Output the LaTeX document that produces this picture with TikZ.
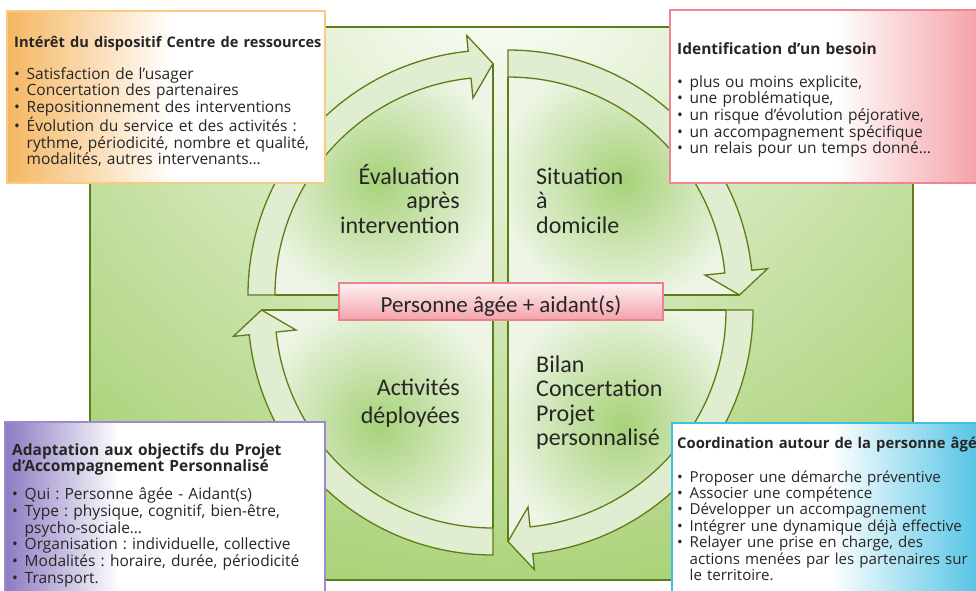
\documentclass[tikz,border=0pt]{standalone}
\usepackage{fontspec}
\setmainfont{Open Sans}
\newfontfamily\handfont{Carlito}
\usetikzlibrary{calc}
\frenchspacing

\definecolor{cycleline}{HTML}{5E7D17}
\definecolor{bandfill}{HTML}{E0EDD0}
\definecolor{innerbase}{HTML}{EEF5E6}
\definecolor{spotgreen}{HTML}{A7D279}
\definecolor{bgouter}{HTML}{96C758}
\definecolor{labeltop}{HTML}{FDF1F2}
\definecolor{labelbot}{HTML}{F3A3AB}
\definecolor{labelline}{HTML}{EC8190}
\definecolor{orangeL}{HTML}{F5B662}
\definecolor{orangeline}{HTML}{F9CB7E}
\definecolor{pinkR}{HTML}{F4A2A8}
\definecolor{pinkline}{HTML}{EF8592}
\definecolor{purpleL}{HTML}{8C7BC2}
\definecolor{purpleline}{HTML}{9C8BCB}
\definecolor{blueR}{HTML}{56C4E6}
\definecolor{blueline}{HTML}{3DBFE6}
\definecolor{inktext}{HTML}{262626}

% bullet line with hanging indent
\newcommand\bul{\par\hangindent=12.5pt\hangafter=1\noindent\makebox[12.5pt][l]{•}}
% panel heading, optional size
\newcommand\panelhead[2][15.5]{{\fontsize{#1}{16.7}\selectfont\textbf{#2}}}

% one quarter of the cycle: sector, curved arrow band and straight edges
% #1 corner of the quarter, #2 angle where the band starts
\newcommand\cyclequad[2]{%
  \begin{scope}[shift={#1}]
    \pgfmathsetmacro\qb{#2+84.2}
    \pgfmathsetmacro\qe{#2+90}
    \pgfmathsetmacro\qm{#2+45}
    \path[fill=innerbase] (0,0) -- (#2:218) arc[start angle=#2, end angle=\qb, radius=218]
      -- (\qb:198) -- (\qe:231.5) -- cycle;
    \begin{scope}
      \clip (0,0) -- (#2:218) arc[start angle=#2, end angle=\qb, radius=218]
        -- (\qb:198) -- (\qe:231.5) -- cycle;
      \shade[inner color=spotgreen, outer color=innerbase] (\qm:162) circle (125);
    \end{scope}
    \draw[cycleedge, fill=bandfill] (#2:218) -- (#2:245)
      arc[start angle=#2, end angle=\qb, radius=245]
      -- (\qb:261) -- (\qe:231.5) -- (\qb:198) -- (\qb:218)
      arc[start angle=\qb, end angle=#2, radius=218] -- cycle;
    \draw[cycleedge] (\qe:231.5) -- (0,0) -- (#2:218);
  \end{scope}}

\begin{document}
\begin{tikzpicture}[x=1pt, y=1pt, yscale=-1,
  cycleedge/.style={draw=cycleline, line width=1.3pt, line join=miter},
  boxtext/.style={inner sep=0pt, anchor=base west, text=inktext, text width=#1,
    font=\fontsize{15.5}{16.7}\selectfont, align=left},
  quadtext/.style={inner sep=0pt, text=inktext, text width=170pt,
    font=\handfont\fontsize{24}{24.6}\selectfont},
  boxframe/.style={line width=1.3pt}]

\useasboundingbox (0,0) rectangle (976,590);

% green background panel
\begin{scope}
  \clip (90,27) rectangle (913,580);
  \shade[inner color=white, outer color=bgouter] (500,-40) circle (800);
\end{scope}
\draw[cycleline, line width=1.3pt] (90,27) rectangle (913,580);

% the four quarters of the cycle
\cyclequad{(493,295)}{180}
\cyclequad{(508,295)}{270}
\cyclequad{(508,310)}{0}
\cyclequad{(493,310)}{90}

% centre label
\node[draw=labelline, line width=1.4pt, top color=labeltop, bottom color=labelbot,
  minimum width=324pt, text height=29pt, text depth=8pt, inner sep=0pt, anchor=base,
  text=inktext, font=\handfont\fontsize{23}{24}\selectfont] (who) at (501,312)
  {Personne âgée + aidant(s)};

% quarter captions
\node[quadtext, align=right, anchor=base east] (evaluation) at (460,184)
  {Évaluation\\après\\intervention};
\node[quadtext, align=left, anchor=base west] (situation) at (536,184)
  {Situation\\à\\domicile};
\node[quadtext, align=left, anchor=base west] (bilan) at (536,372)
  {Bilan\\Concertation\\Projet\\personnalisé};
\node[quadtext, align=right, anchor=base east,
  font=\handfont\fontsize{24}{28}\selectfont] (activites) at (460,395)
  {Activités\\déployées};

% top left panel
\fill[white] (7,11) rectangle (325,183);
\shade[left color=orangeL, right color=white] (7,11) rectangle (172,183);
\draw[orangeline, boxframe] (7,11) rectangle (325,183);
\node[boxtext=322pt] (ressources) at (14,47)
  {\raggedright\panelhead[14.6]{Intérêt du dispositif Centre de ressources}\par\vspace{15.3pt}
   \bul Satisfaction de l’usager
   \bul Concertation des partenaires
   \bul Repositionnement des interventions
   \bul Évolution du service et des activités :\newline rythme, périodicité, nombre et qualité,\newline modalités, autres intervenants…\par};

% top right panel
\fill[white] (670,10) rectangle (990,183);
\shade[left color=white, right color=pinkR] (835,10) rectangle (978,183);
\draw[pinkline, boxframe] (670,10) rectangle (995,183);
\node[boxtext=300pt] (besoin) at (677,54)
  {\raggedright\panelhead{Identification d’un besoin}\par\vspace{16.3pt}
   \bul plus ou moins explicite,
   \bul une problématique,
   \bul un risque d’évolution péjorative,
   \bul un accompagnement spécifique
   \bul un relais pour un temps donné…\par};

% bottom left panel
\fill[white] (5,422) rectangle (325,600);
\shade[left color=purpleL, right color=white] (5,422) rectangle (120,600);
\draw[purpleline, boxframe] (5,422) rectangle (325,605);
\node[boxtext=315pt] (adaptation) at (12,455)
  {\raggedright\panelhead{Adaptation aux objectifs du Projet}\par
   \panelhead{d’Accompagnement Personnalisé}\par\vspace{11.3pt}
   \bul Qui : Personne âgée - Aidant(s)
   \bul Type : physique, cognitif, bien-être,\newline psycho-sociale…
   \bul Organisation : individuelle, collective
   \bul Modalités : horaire, durée, périodicité
   \bul Transport.\par};

% bottom right panel
\fill[white] (672,423) rectangle (990,600);
\shade[left color=white, right color=blueR] (830,423) rectangle (978,600);
\draw[blueline, boxframe] (672,423) rectangle (995,605);
\node[boxtext=330pt, font=\fontsize{15.1}{16.4}\selectfont] (coordination) at (677,448)
  {\raggedright\panelhead[14.8]{Coordination autour de la personne âgée}\par\vspace{17.6pt}
   \bul Proposer une démarche préventive
   \bul Associer une compétence
   \bul Développer un accompagnement
   \bul Intégrer une dynamique déjà effective
   \bul Relayer une prise en charge, des\newline actions menées par les partenaires sur\newline le territoire.\par};

\end{tikzpicture}
\end{document}
